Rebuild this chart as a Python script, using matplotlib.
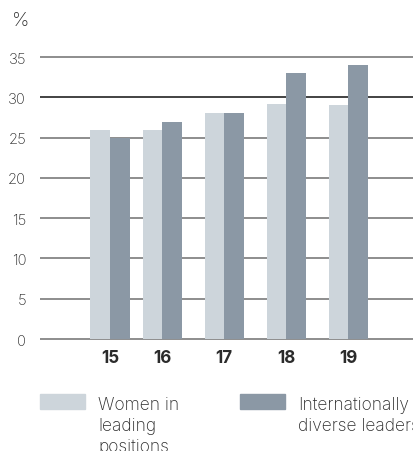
import matplotlib.pyplot as plt
from matplotlib.patches import Rectangle

# data
years = ["15", "16", "17", "18", "19"]
positions = [0, 0.84, 1.84, 2.84, 3.84]
women = [26, 26, 28, 29.2, 29]
diverse = [25, 27, 28, 33, 34]
series_names = ["Women in\nleading\npositions", "Internationally\ndiverse leaders"]
y_ticks = [0, 5, 10, 15, 20, 25, 30, 35]

light = "#cdd5db"
dark = "#8b98a5"
text_col = "#2b2b2b"

plt.rcParams['font.family'] = ['Inter', 'DejaVu Sans']

W, H = 414, 452
fig = plt.figure(figsize=(W / 100, H / 100), dpi=100)
ax = fig.add_axes([40 / W, 103.9 / H, 1 - 40 / W, 37 * 8.057 / H])

bw = 0.315
ax.bar([p - bw / 2 for p in positions], women, width=bw, color=light, zorder=3)
ax.bar([p + bw / 2 for p in positions], diverse, width=bw, color=dark, zorder=3)

ax.set_xlim(-70 / 62, (414 - 110) / 62)
ax.set_ylim(-1, 36)

# horizontal grid lines
for t in y_ticks:
    c = "#222222" if t == 30 else "#7a7a7a"
    ax.axhline(t, color=c, lw=1.2, zorder=1)

ax.set_yticks(y_ticks)
ax.set_yticklabels([str(t) for t in y_ticks], fontsize=10.7, color=text_col, fontweight='light')
ax.set_xticks(positions)
ax.set_xticklabels(years, fontsize=12.3, fontweight='bold', color=text_col)
ax.tick_params(axis='y', length=0, pad=10)
ax.tick_params(axis='x', length=0, pad=1.5)
for s in ax.spines.values():
    s.set_visible(False)

fig.text(21 / W, 1 - 21 / H, "%", fontsize=14, color=text_col, va='center', ha='center',
         fontweight='light')

# legend at the bottom
for x0, col, name in [(40, light, series_names[0]), (240, dark, series_names[1])]:
    fig.add_artist(Rectangle((x0 / W, 1 - 410 / H), 45 / W, 15 / H,
                             transform=fig.transFigure, color=col))
    fig.text((x0 + 58) / W, 1 - 397 / H, name, fontsize=12.5, color=text_col,
             va='top', ha='left', linespacing=1.3, fontweight='light')

fig.savefig("out.png", dpi=100)
